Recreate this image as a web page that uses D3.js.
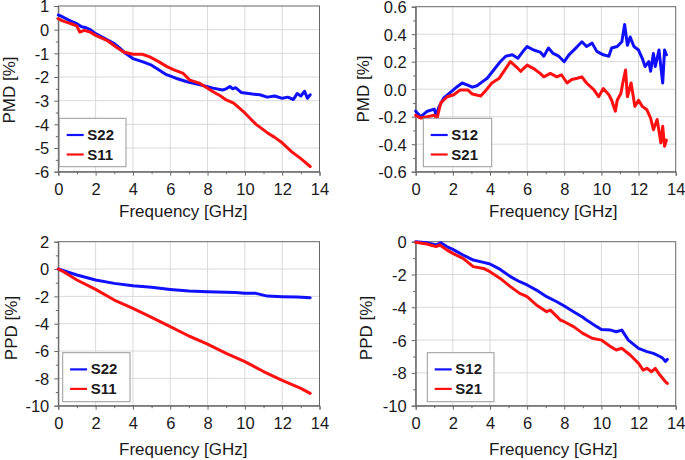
<!DOCTYPE html>
<html>
<head>
<meta charset="utf-8">
<script src="https://cdn.jsdelivr.net/npm/d3@7"></script>
<style>
  html, body { margin: 0; padding: 0; background: #fff; }
  svg { display: block; }
  text { font-family: "Liberation Sans", Arial, sans-serif; fill: #1a1a1a; }
</style>
</head>
<body>
<svg id="chart" width="685" height="460"></svg>
<script>
// ---------- DATA ----------
const freqTicks = [0, 2, 4, 6, 8, 10, 12, 14];
const freqMinorTicks = [1, 3, 5, 7, 9, 11, 13];

const pmdReflTicks = [-6, -5, -4, -3, -2, -1, 0, 1];
const pmdTransTicks = [-0.6, -0.4, -0.2, 0.0, 0.2, 0.4, 0.6];
const ppdReflTicks = [-10, -8, -6, -4, -2, 0, 2];
const ppdTransTicks = [-10, -8, -6, -4, -2, 0];

const reflLabels = ["S22", "S11"];
const transLabels = ["S12", "S21"];

// [frequency GHz, value %]
const pmdS22 = [[0,0.62],[0.2,0.55],[0.45,0.45],[0.7,0.35],[1.0,0.25],[1.25,0.12],[1.5,0.08],[1.75,-0.02],[2.0,-0.17],[2.5,-0.38],[3.0,-0.59],[3.3,-0.78],[3.6,-1.0],[4.0,-1.22],[4.5,-1.35],[5.0,-1.5],[5.4,-1.7],[5.8,-1.9],[6.3,-2.05],[6.9,-2.2],[7.6,-2.33],[8.3,-2.47],[8.8,-2.55],[9.0,-2.5],[9.2,-2.4],[9.35,-2.5],[9.5,-2.45],[9.8,-2.65],[10.4,-2.72],[10.8,-2.75],[11.2,-2.85],[11.6,-2.8],[12.0,-2.9],[12.3,-2.85],[12.6,-2.95],[12.8,-2.7],[13.0,-2.8],[13.2,-2.6],[13.35,-2.9],[13.5,-2.75]];
const pmdS11 = [[0,0.46],[0.2,0.38],[0.5,0.3],[0.8,0.22],[1.0,0.15],[1.15,-0.1],[1.4,-0.03],[1.7,-0.1],[2.0,-0.24],[2.6,-0.45],[3.1,-0.73],[3.5,-0.94],[4.0,-1.04],[4.5,-1.04],[4.9,-1.15],[5.4,-1.36],[5.8,-1.55],[6.2,-1.7],[6.7,-1.85],[7.05,-2.13],[7.6,-2.27],[8.3,-2.62],[8.7,-2.8],[9.0,-2.97],[9.4,-3.1],[10.0,-3.52],[10.6,-4.0],[11.2,-4.35],[11.6,-4.55],[12.0,-4.78],[12.5,-5.15],[13.0,-5.45],[13.5,-5.78]];
const pmdS12 = [[0,-0.16],[0.27,-0.2],[0.63,-0.16],[1.0,-0.145],[1.1,-0.19],[1.25,-0.13],[1.5,-0.065],[1.9,-0.02],[2.25,0.02],[2.5,0.045],[2.8,0.03],[3.05,0.015],[3.3,0.025],[3.6,0.055],[3.85,0.08],[4.2,0.14],[4.55,0.2],[4.85,0.24],[5.2,0.25],[5.5,0.225],[5.75,0.27],[6.0,0.31],[6.35,0.285],[6.7,0.27],[6.9,0.24],[7.15,0.3],[7.4,0.26],[7.7,0.24],[8.0,0.2],[8.25,0.25],[8.7,0.31],[8.95,0.345],[9.2,0.31],[9.5,0.335],[9.75,0.275],[10.1,0.25],[10.4,0.24],[10.55,0.3],[10.85,0.31],[11.1,0.345],[11.25,0.47],[11.4,0.32],[11.55,0.38],[11.75,0.31],[12.0,0.285],[12.2,0.225],[12.35,0.165],[12.55,0.2],[12.65,0.13],[12.8,0.26],[12.9,0.165],[13.1,0.285],[13.2,0.165],[13.3,0.045],[13.4,0.285],[13.5,0.25]];
const pmdS21 = [[0,-0.19],[0.27,-0.21],[0.63,-0.2],[1.0,-0.19],[1.15,-0.21],[1.35,-0.1],[1.7,-0.055],[2.05,-0.04],[2.4,-0.005],[2.8,-0.005],[3.05,-0.035],[3.5,-0.05],[3.8,-0.005],[4.1,0.045],[4.5,0.08],[4.8,0.14],[5.1,0.2],[5.4,0.165],[5.65,0.13],[6.0,0.175],[6.35,0.15],[6.7,0.115],[6.9,0.09],[7.25,0.115],[7.6,0.09],[7.85,0.105],[8.15,0.045],[8.4,0.07],[8.7,0.08],[8.95,0.09],[9.2,0.045],[9.6,-0.005],[9.85,-0.055],[10.1,0.005],[10.4,-0.04],[10.55,-0.08],[10.75,-0.16],[10.85,-0.08],[11.05,-0.03],[11.15,0.045],[11.3,0.14],[11.4,-0.055],[11.6,0.045],[11.8,-0.125],[12.0,-0.08],[12.2,-0.125],[12.45,-0.15],[12.65,-0.21],[12.8,-0.295],[13.0,-0.22],[13.15,-0.345],[13.2,-0.39],[13.3,-0.27],[13.4,-0.415],[13.5,-0.37]];
const ppdS22 = [[0,0],[0.45,-0.2],[1,-0.44],[2,-0.8],[3,-1.05],[4,-1.22],[5,-1.34],[6,-1.49],[7,-1.61],[8,-1.66],[9,-1.7],[9.5,-1.72],[10,-1.78],[10.6,-1.78],[11.2,-1.98],[12,-2.02],[12.8,-2.04],[13.5,-2.1]];
const ppdS11 = [[0,0],[0.3,-0.22],[1,-0.8],[2,-1.49],[3,-2.27],[4,-2.88],[5,-3.54],[6,-4.22],[7,-4.9],[8,-5.49],[9,-6.17],[10,-6.78],[11,-7.5],[12,-8.15],[13,-8.73],[13.5,-9.1]];
const ppdS12 = [[0,0],[0.6,-0.06],[1.1,-0.2],[1.35,-0.06],[1.67,-0.3],[2,-0.47],[2.55,-0.81],[3.1,-1.12],[3.65,-1.26],[4,-1.36],[4.55,-1.69],[5.1,-2.13],[5.6,-2.44],[6,-2.64],[6.5,-2.95],[7.05,-3.35],[7.6,-3.66],[8,-3.92],[8.5,-4.27],[9,-4.61],[9.2,-4.78],[9.75,-5.18],[10,-5.35],[10.5,-5.39],[10.8,-5.49],[11.1,-5.39],[11.45,-6.0],[12,-6.5],[12.45,-6.7],[12.8,-6.81],[13.15,-7.0],[13.3,-7.1],[13.45,-7.3],[13.55,-7.17]];
const ppdS21 = [[0,-0.04],[0.6,-0.14],[1.1,-0.3],[1.3,-0.2],[1.67,-0.5],[2,-0.71],[2.55,-1.02],[3.1,-1.52],[3.65,-1.63],[4,-1.83],[4.55,-2.24],[5.1,-2.74],[5.6,-3.15],[6,-3.35],[6.5,-3.86],[7.05,-4.27],[7.25,-4.17],[7.8,-4.78],[8,-4.88],[8.5,-5.18],[9,-5.59],[9.5,-5.89],[10,-6.0],[10.5,-6.4],[10.8,-6.6],[11.1,-6.5],[11.55,-6.91],[12,-7.42],[12.25,-7.83],[12.45,-7.72],[12.7,-7.93],[12.9,-7.72],[13.15,-8.13],[13.45,-8.54],[13.55,-8.64]];

// ---------- LAYOUT ----------
const BLUE = "#1010ff", RED = "#ff1010";
const panels = [
  { x0: 58.3, x1: 319.5, y0: 6, y1: 171.7, yDomain: [-6, 1], yTicks: pmdReflTicks, yStep: 0.5,
    fmt: d => String(d), yTitle: "PMD [%]", yTitleX: 14.5, yTitleY: 90, xTitleX: 183.3, xTitleY: 216.5,
    series: [pmdS22, pmdS11], labels: reflLabels, legend: { x: 59.3, y: 118.3, w: 66.7, h: 48.4 } },
  { x0: 415.7, x1: 675.7, y0: 6.7, y1: 171.7, yDomain: [-0.6, 0.6], yTicks: pmdTransTicks, yStep: 0.1,
    fmt: d => d.toFixed(1), yTitle: "PMD [%]", yTitleX: 369, yTitleY: 89, xTitleX: 553.3, xTitleY: 216.5,
    series: [pmdS12, pmdS21], labels: transLabels, legend: { x: 423.3, y: 118.3, w: 68.4, h: 48.4 } },
  { x0: 58.3, x1: 319.5, y0: 241.7, y1: 405.7, yDomain: [-10, 2], yTicks: ppdReflTicks, yStep: 1,
    fmt: d => String(d), yTitle: "PPD [%]", yTitleX: 16.5, yTitleY: 328, xTitleX: 183.3, xTitleY: 455,
    series: [ppdS22, ppdS11], labels: reflLabels, legend: { x: 62.7, y: 352.7, w: 67.3, h: 49 } },
  { x0: 415.7, x1: 675.7, y0: 241.7, y1: 405.7, yDomain: [-10, 0], yTicks: ppdTransTicks, yStep: 1,
    fmt: d => String(d), yTitle: "PPD [%]", yTitleX: 371.5, yTitleY: 328, xTitleX: 553.3, xTitleY: 455,
    series: [ppdS12, ppdS21], labels: transLabels, legend: { x: 427.3, y: 352.7, w: 66.7, h: 49 } }
];

const svg = d3.select("#chart");
svg.append("rect").attr("width", 685).attr("height", 460).attr("fill", "#fff");

panels.forEach(p => {
  const x = d3.scaleLinear().domain([0, 14]).range([p.x0, p.x1]);
  const y = d3.scaleLinear().domain(p.yDomain).range([p.y1, p.y0]);
  const g = svg.append("g");

  const yMinor = d3.range(p.yDomain[0], p.yDomain[1] + 1e-9, p.yStep)
    .map(v => +v.toFixed(4)).filter(v => !p.yTicks.some(t => Math.abs(t - v) < 1e-6));

  // grid
  g.append("g").selectAll("line").data(freqTicks.slice(1, -1)).join("line")
    .attr("x1", d => x(d)).attr("x2", d => x(d)).attr("y1", p.y0).attr("y2", p.y1)
    .attr("stroke", "#d9d9d9").attr("stroke-width", 1);
  g.append("g").selectAll("line").data(p.yTicks.slice(1, -1)).join("line")
    .attr("x1", p.x0).attr("x2", p.x1).attr("y1", d => y(d)).attr("y2", d => y(d))
    .attr("stroke", "#d9d9d9").attr("stroke-width", 1);

  // axes
  const xAxis = g.append("g").attr("transform", `translate(0,${p.y1})`)
    .call(d3.axisBottom(x).tickValues(freqTicks).tickSize(4).tickPadding(8).tickFormat(d => String(d)));
  g.append("g").attr("transform", `translate(0,${p.y1})`)
    .call(d3.axisBottom(x).tickValues(freqMinorTicks).tickSize(2.5).tickFormat(""))
    .call(a => a.select(".domain").remove());
  const yAxis = g.append("g").attr("transform", `translate(${p.x0},0)`)
    .call(d3.axisLeft(y).tickValues(p.yTicks).tickSize(4).tickPadding(5).tickFormat(p.fmt));
  g.append("g").attr("transform", `translate(${p.x0},0)`)
    .call(d3.axisLeft(y).tickValues(yMinor).tickSize(2.5).tickFormat(""))
    .call(a => a.select(".domain").remove());

  g.selectAll(".tick line").attr("stroke", "#666");
  g.selectAll(".domain").attr("stroke", "#666");
  xAxis.selectAll("text").attr("font-size", 16.5).attr("fill", "#1a1a1a").attr("dy", "0.71em");
  yAxis.selectAll("text").attr("font-size", 16.5).attr("fill", "#1a1a1a").attr("dy", "0.36em");

  // frame
  g.append("rect").attr("x", p.x0).attr("y", p.y0).attr("width", p.x1 - p.x0).attr("height", p.y1 - p.y0)
    .attr("fill", "none").attr("stroke", "#666").attr("stroke-width", 1);

  // lines
  const line = d3.line().x(d => x(d[0])).y(d => y(d[1]));
  const colors = [BLUE, RED];
  p.series.forEach((s, i) => {
    g.append("path").datum(s).attr("d", line).attr("fill", "none")
      .attr("stroke", colors[i]).attr("stroke-width", 3)
      .attr("stroke-linejoin", "round").attr("stroke-linecap", "round");
  });

  // titles
  g.append("text").attr("x", p.xTitleX).attr("y", p.xTitleY).attr("text-anchor", "middle")
    .attr("font-size", 17).text("Frequency [GHz]");
  g.append("text").attr("transform", `translate(${p.yTitleX},${p.yTitleY}) rotate(-90)`)
    .attr("text-anchor", "middle").attr("font-size", 17).text(p.yTitle);

  // legend
  const L = p.legend;
  const lg = g.append("g");
  lg.append("rect").attr("x", L.x).attr("y", L.y).attr("width", L.w).attr("height", L.h)
    .attr("fill", "#fff").attr("stroke", "#999").attr("stroke-width", 1);
  p.labels.forEach((lab, i) => {
    const cy = L.y + 16.7 + i * 19.5;
    lg.append("line").attr("x1", L.x + 7.4).attr("x2", L.x + 24.4).attr("y1", cy).attr("y2", cy)
      .attr("stroke", colors[i]).attr("stroke-width", 2.2);
    lg.append("text").attr("x", L.x + 28).attr("y", cy + 5).attr("font-size", 15)
      .attr("font-weight", "bold").text(lab);
  });
});
</script>
</body>
</html>
